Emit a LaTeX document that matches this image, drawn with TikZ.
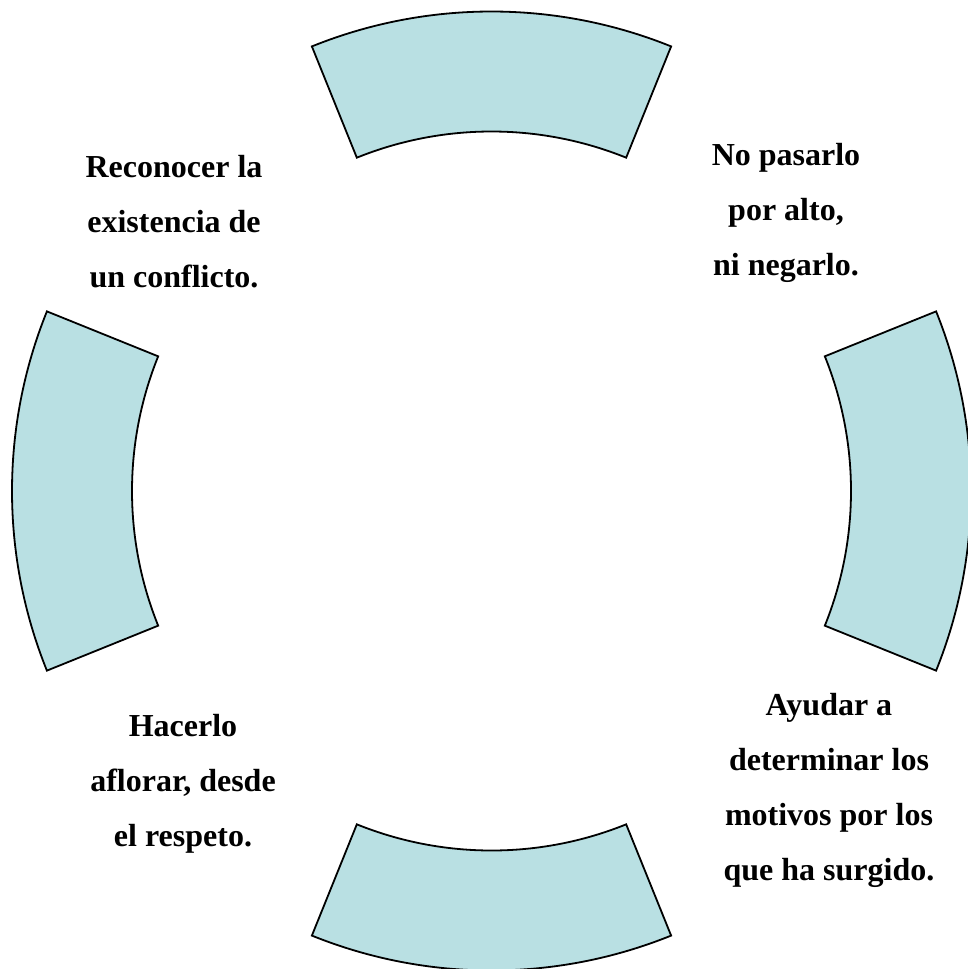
\documentclass[tikz,border=0pt]{standalone}
\usepackage{fontspec}
\setmainfont{Liberation Serif}
\usetikzlibrary{calc}
\begin{document}
\begin{tikzpicture}[x=1pt,y=1pt,
  sector/.style={draw=black,line width=1.8pt,fill=sectorfill,line join=miter},
  lbl/.style={align=center,inner sep=0pt,anchor=base,font=\fontsize{32}{55}\selectfont\bfseries}]
\definecolor{sectorfill}{RGB}{185,224,227}
\useasboundingbox (0,0) rectangle (967,-969);
\coordinate (c) at (491.5,-491);
\def\Ro{479.5}
\def\Ri{359.5}
\foreach \a in {90,0,180,270}{
  \path[sector] ($(c)+(\a-22:\Ro)$) arc[start angle=\a-22,end angle=\a+22,radius=\Ro]
    -- ($(c)+(\a+22:\Ri)$) arc[start angle=\a+22,end angle=\a-22,radius=\Ri] -- cycle;
}
\node[lbl] (t1) at (174,-287) {Reconocer la\\existencia de\\un conflicto.};
\node[lbl] (t2) at (786,-275) {No pasarlo\\por alto,\\ni negarlo.};
\node[lbl] (t3) at (183,-846) {Hacerlo\\aflorar, desde\\el respeto.};
\node[lbl] (t4) at (829,-880) {Ayudar a\\determinar los\\motivos por los\\que ha surgido.};
\end{tikzpicture}
\end{document}
